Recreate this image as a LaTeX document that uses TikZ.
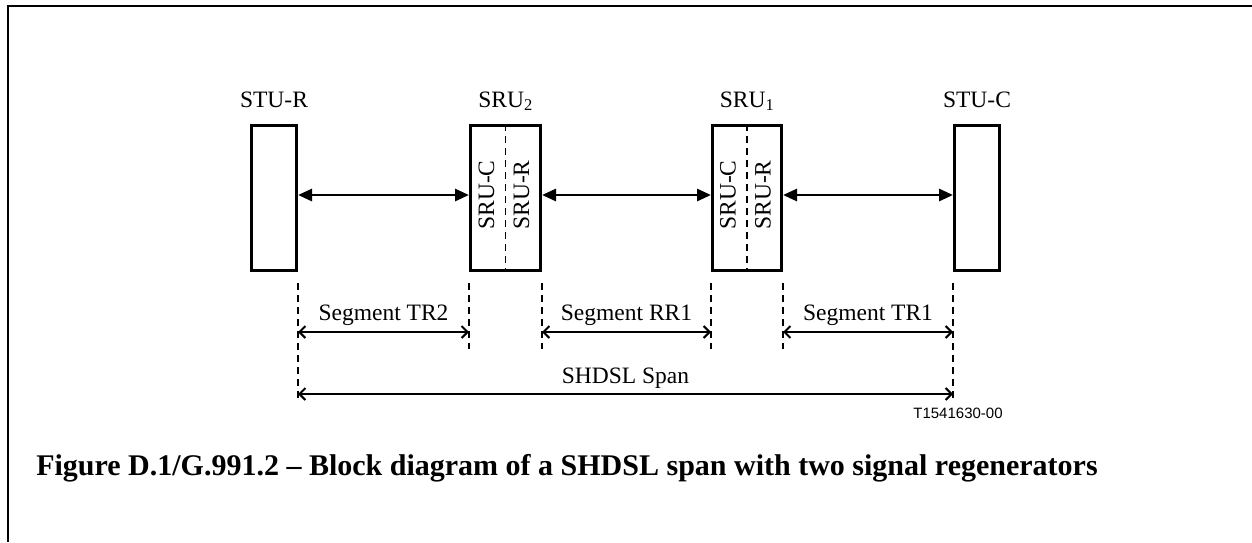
\documentclass[tikz,border=0pt]{standalone}
\usepackage{fontspec}
\setmainfont{Liberation Serif}
\newfontfamily\refnofont{Liberation Sans}
\usetikzlibrary{positioning, arrows.meta}

\begin{document}
\begin{tikzpicture}[x=1pt, y=-1pt,
        unit/.style={draw, line width=3pt, minimum height=145pt, inner sep=0pt},
        link/.style={line width=2.8pt, {Triangle[length=14pt,width=12pt]}-{Triangle[length=14pt,width=12pt]}},
        guide/.style={line width=1.2pt, dash pattern=on 7pt off 5pt},
        dim/.style={line width=1.5pt, {Straight Barb[length=6pt,width=12pt,line width=2pt]}-{Straight Barb[length=6pt,width=12pt,line width=2pt]}},
        lab/.style={font=\fontsize{23.5}{25}\selectfont}]

        \useasboundingbox (0,0) rectangle (1252,542);
        \draw[line width=2pt] (8,542) -- (8,6) -- (1252,6);

        % units on the line
        \node[unit, minimum width=45pt] (stur) at (274,198) {};
        \node[unit, minimum width=70pt] (sru2) at (505.5,198) {};
        \node[unit, minimum width=69pt] (sru1) at (747,198) {};
        \node[unit, minimum width=45pt] (stuc) at (977,198) {};

        \node[lab, anchor=base] (sturlab) at ([yshift=17pt]stur.north) {STU-R};
        \node[lab, anchor=base] (sru2lab) at ([yshift=17pt]sru2.north) {SRU\textsubscript{2}};
        \node[lab, anchor=base] (sru1lab) at ([yshift=17pt]sru1.north) {SRU\textsubscript{1}};
        \node[lab, anchor=base] (stuclab) at ([yshift=17pt]stuc.north) {STU-C};

        % the two halves of each regenerator
        \foreach \r in {sru2, sru1} {
            \draw[guide, line width=1.5pt] (\r.north) -- (\r.south);
            \node[lab, rotate=90] (\r c) at ([xshift=-19pt,yshift=3pt]\r.center) {SRU-C};
            \node[lab, rotate=90] (\r r) at ([xshift=16pt,yshift=3pt]\r.center) {SRU-R};
        }

        \draw[link] ([yshift=3pt]stur.east) -- ([yshift=3pt]sru2.west);
        \draw[link] ([yshift=3pt]sru2.east) -- ([yshift=3pt]sru1.west);
        \draw[link] ([yshift=3pt]sru1.east) -- ([yshift=3pt]stuc.west);

        % dashed guides down to the dimension lines
        \draw[guide] ([yshift=-11pt]stur.south east) -- ++(0,116);
        \draw[guide] ([yshift=-11pt]sru2.south west) -- ++(0,66);
        \draw[guide] ([yshift=-11pt]sru2.south east) -- ++(0,66);
        \draw[guide] ([yshift=-11pt]sru1.south west) -- ++(0,66);
        \draw[guide] ([yshift=-11pt]sru1.south east) -- ++(0,66);
        \draw[guide] ([yshift=-11pt]stuc.south west) -- ++(0,116);

        \coordinate (segy) at (0,332);
        \coordinate (spany) at (0,394);

        \draw[dim] (stur.east |- segy) -- node[lab, midway, anchor=base, yshift=12pt] (tr2) {Segment TR2} (sru2.west |- segy);
        \draw[dim] (sru2.east |- segy) -- node[lab, midway, anchor=base, yshift=12pt] (rr1) {Segment RR1} (sru1.west |- segy);
        \draw[dim] (sru1.east |- segy) -- node[lab, midway, anchor=base, yshift=12pt] (tr1) {Segment TR1} (stuc.west |- segy);
        \draw[dim] (stur.east |- spany) -- node[lab, midway, anchor=base, yshift=11pt] (span) {SHDSL Span} (stuc.west |- spany);

        \node[font=\refnofont\fontsize{15}{17}\selectfont, anchor=base] (refno) at (958,418) {T1541630-00};

        \node[font=\bfseries\fontsize{30}{32}\selectfont, anchor=base] (caption) at (567,475)
            {Figure D.1/G.991.2 – Block diagram of a SHDSL span with two signal regenerators};
\end{tikzpicture}
\end{document}
